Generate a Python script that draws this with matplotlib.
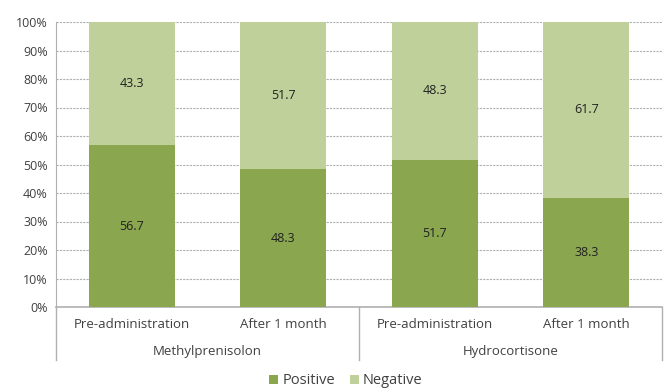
import matplotlib.pyplot as plt
import numpy as np

plt.rcParams['font.family'] = ['Open Sans', 'DejaVu Sans']

groups = ["Methylprenisolon", "Hydrocortisone"]
timepoints = ["Pre-administration", "After 1 month", "Pre-administration", "After 1 month"]
positive = [56.7, 48.3, 51.7, 38.3]
negative = [43.3, 51.7, 48.3, 61.7]
yticks = [0, 10, 20, 30, 40, 50, 60, 70, 80, 90, 100]

dark_green = "#8aa64f"
light_green = "#bfd09b"
text_color = "#404040"

fig = plt.figure(figsize=(6.64, 3.90), dpi=100)
ax = fig.add_axes([56 / 664, 1 - 307 / 390, 606 / 664, 285 / 390])

x = np.arange(len(timepoints))
width = 0.566
b1 = ax.bar(x, positive, width, color=dark_green, label="Positive", zorder=3)
b2 = ax.bar(x, negative, width, bottom=positive, color=light_green, label="Negative", zorder=3)

for i in range(len(x)):
    ax.text(x[i], positive[i] / 2, f"{positive[i]:.1f}", ha="center", va="center",
            fontsize=9, color="#222222", zorder=4)
    ax.text(x[i], positive[i] + negative[i] / 2, f"{negative[i]:.1f}", ha="center",
            va="center", fontsize=9, color="#222222", zorder=4)

ax.set_xlim(-0.5, len(x) - 0.5)
ax.set_ylim(0, 100)
ax.set_yticks(yticks)
ax.set_yticklabels([f"{v}%" for v in yticks], fontsize=9, color=text_color)
ax.yaxis.grid(True, linestyle=(0, (2, 1)), color="#b0b0b0", linewidth=0.8, zorder=0)
ax.tick_params(axis="y", length=0, pad=6)
ax.tick_params(axis="x", length=0)
ax.set_xticks([])

for s in ["top", "right"]:
    ax.spines[s].set_visible(False)
ax.spines["left"].set_color("#b0b0b0")
ax.spines["bottom"].set_color("#b0b0b0")
ax.spines["bottom"].set_linewidth(1.2)

# two-level category axis
trans = ax.get_xaxis_transform()
for i, lab in enumerate(timepoints):
    ax.text(x[i], -18 / 285, lab, transform=trans, ha="center", va="center",
            fontsize=9.5, color=text_color)
for g, lab in enumerate(groups):
    ax.text(2 * g + 0.5, -45 / 285, lab, transform=trans, ha="center", va="center",
            fontsize=9.5, color=text_color)
for xs in [-0.5, 1.5, 3.5]:
    ax.plot([xs, xs], [0, -53 / 285], transform=trans, color="#b0b0b0",
            linewidth=1.0, clip_on=False)

fig.legend(handles=[b1, b2], labels=["Positive", "Negative"], loc="center",
           bbox_to_anchor=(346 / 664, 1 - 381 / 390), ncol=2, frameon=False,
           fontsize=10.5, handlelength=0.6, handleheight=0.6, handletextpad=0.3,
           columnspacing=1.0, labelcolor=text_color)

fig.savefig("out.png", dpi=100)
